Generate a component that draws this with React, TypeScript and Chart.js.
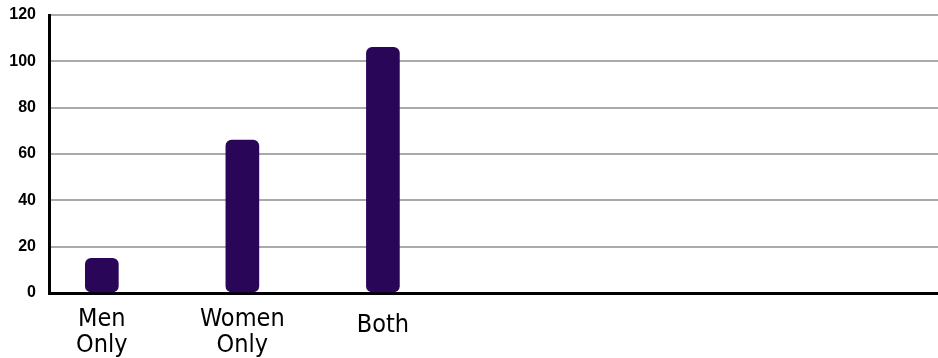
import React, { useEffect, useRef } from "react";
import { Chart, registerables } from "chart.js";

Chart.register(...registerables);

// Categories along the x axis, placed at positions 0, 1, 2 on a linear scale.
const categories: (string | string[])[] = [["Men", "Only"], ["Women", "Only"], "Both"];
const counts: number[] = [15, 66, 106];
const yTicks: number[] = [0, 20, 40, 60, 80, 100, 120];

const BAR_COLOR = "#2a0659";

export default function App() {
  const canvasRef = useRef<HTMLCanvasElement | null>(null);

  useEffect(() => {
    if (!canvasRef.current) return;
    const chart = new Chart(canvasRef.current, {
      type: "bar",
      data: {
        datasets: [
          {
            data: counts.map((v, i) => ({ x: i, y: v })),
            backgroundColor: BAR_COLOR,
            borderColor: BAR_COLOR,
            borderWidth: 0,
            barThickness: 33,
            borderRadius: 6,
            borderSkipped: false,
          },
        ],
      },
      options: {
        animation: false,
        responsive: true,
        maintainAspectRatio: false,
        layout: { padding: { top: 15, right: 0, bottom: 0, left: 0 } },
        plugins: {
          legend: { display: false },
          tooltip: { enabled: false },
        },
        scales: {
          x: {
            type: "linear",
            min: -0.376,
            max: 5.95,
            offset: false,
            grid: { display: false, drawTicks: false },
            border: { color: "#000", width: 3 },
            afterBuildTicks: (scale: any) => {
              scale.ticks = categories.map((_, i) => ({ value: i }));
            },
            afterFit: (scale: any) => {
              scale.height = 65;
              scale.paddingLeft = 0;
              scale.paddingRight = 0;
            },
            ticks: {
              color: "#000",
              padding: 26,
              autoSkip: false,
              maxRotation: 0,
              crossAlign: "center",
              callback: (value: any) => categories[value as number] ?? "",
              font: (ctx: any) => ({
                family: "'DejaVu Sans Condensed', 'Liberation Sans Narrow', sans-serif",
                size: 25,
                lineHeight: ctx.index === 2 ? 1.55 : 1.04,
              }),
            },
          },
          y: {
            min: 0,
            max: 120,
            afterBuildTicks: (scale: any) => {
              scale.ticks = yTicks.map((v) => ({ value: v }));
            },
            afterFit: (scale: any) => {
              scale.width = 49;
              scale.paddingTop = 0;
              scale.paddingBottom = 0;
            },
            grid: { color: "#aaaaaa", lineWidth: 2, drawTicks: false },
            border: { color: "#000", width: 3 },
            ticks: {
              color: "#000",
              padding: 13,
              font: {
                family: "'Liberation Sans', Arial, sans-serif",
                size: 16,
                weight: "bold",
              },
            },
          },
        },
      },
    });
    return () => chart.destroy();
  }, []);

  return (
    <div style={{ position: "absolute", left: 0, top: 0, width: 938, height: 358, background: "#fff" }}>
      <canvas ref={canvasRef} />
    </div>
  );
}
